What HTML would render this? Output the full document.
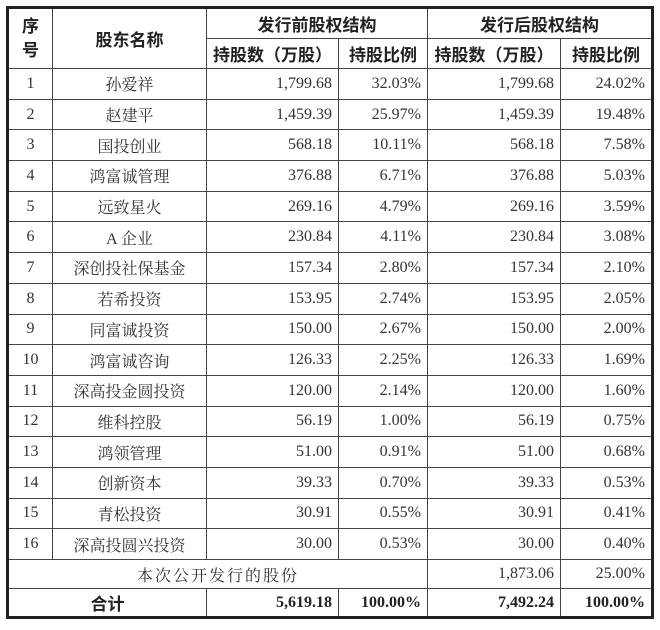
<!DOCTYPE html>
<html><head><meta charset="utf-8"><style>
body{margin:0;background:#fff;width:660px;height:630px;overflow:hidden}
table{position:absolute;left:6px;top:6px;border-collapse:collapse;table-layout:fixed;width:645px;border:3px solid #222;font-family:"Liberation Serif","Noto Serif CJK SC",serif;font-size:16px;color:#333}
td{border:1px solid #444;padding:0 6px;box-sizing:border-box;white-space:nowrap;overflow:hidden}
.h{font-family:"Liberation Sans","Noto Sans CJK SC",sans-serif;font-weight:bold;font-size:17px;color:#222;text-align:center}
.c{text-align:center}.r{text-align:right}
.b{font-weight:bold;color:#222}
tr.d{height:30.7px}
</style></head><body>
<table>
<colgroup><col style="width:45px"><col style="width:154px"><col style="width:132px"><col style="width:89px"><col style="width:133px"><col style="width:92px"></colgroup>
<tr style="height:31px"><td class="h" rowspan="2" style="line-height:24px;padding:0">序<br>号</td><td class="h" rowspan="2">股东名称</td><td class="h" colspan="2">发行前股权结构</td><td class="h" colspan="2">发行后股权结构</td></tr>
<tr style="height:30px"><td class="h" style="padding:0">持股数（万股）</td><td class="h" style="padding:0">持股比例</td><td class="h" style="padding:0">持股数（万股）</td><td class="h" style="padding:0">持股比例</td></tr>
<tr class="d"><td class="c">1</td><td class="c">孙爱祥</td><td class="r">1,799.68</td><td class="r">32.03%</td><td class="r">1,799.68</td><td class="r">24.02%</td></tr>
<tr class="d"><td class="c">2</td><td class="c">赵建平</td><td class="r">1,459.39</td><td class="r">25.97%</td><td class="r">1,459.39</td><td class="r">19.48%</td></tr>
<tr class="d"><td class="c">3</td><td class="c">国投创业</td><td class="r">568.18</td><td class="r">10.11%</td><td class="r">568.18</td><td class="r">7.58%</td></tr>
<tr class="d"><td class="c">4</td><td class="c">鸿富诚管理</td><td class="r">376.88</td><td class="r">6.71%</td><td class="r">376.88</td><td class="r">5.03%</td></tr>
<tr class="d"><td class="c">5</td><td class="c">远致星火</td><td class="r">269.16</td><td class="r">4.79%</td><td class="r">269.16</td><td class="r">3.59%</td></tr>
<tr class="d"><td class="c">6</td><td class="c">A 企业</td><td class="r">230.84</td><td class="r">4.11%</td><td class="r">230.84</td><td class="r">3.08%</td></tr>
<tr class="d"><td class="c">7</td><td class="c">深创投社保基金</td><td class="r">157.34</td><td class="r">2.80%</td><td class="r">157.34</td><td class="r">2.10%</td></tr>
<tr class="d"><td class="c">8</td><td class="c">若希投资</td><td class="r">153.95</td><td class="r">2.74%</td><td class="r">153.95</td><td class="r">2.05%</td></tr>
<tr class="d"><td class="c">9</td><td class="c">同富诚投资</td><td class="r">150.00</td><td class="r">2.67%</td><td class="r">150.00</td><td class="r">2.00%</td></tr>
<tr class="d"><td class="c">10</td><td class="c">鸿富诚咨询</td><td class="r">126.33</td><td class="r">2.25%</td><td class="r">126.33</td><td class="r">1.69%</td></tr>
<tr class="d"><td class="c">11</td><td class="c">深高投金圆投资</td><td class="r">120.00</td><td class="r">2.14%</td><td class="r">120.00</td><td class="r">1.60%</td></tr>
<tr class="d"><td class="c">12</td><td class="c">维科控股</td><td class="r">56.19</td><td class="r">1.00%</td><td class="r">56.19</td><td class="r">0.75%</td></tr>
<tr class="d"><td class="c">13</td><td class="c">鸿领管理</td><td class="r">51.00</td><td class="r">0.91%</td><td class="r">51.00</td><td class="r">0.68%</td></tr>
<tr class="d"><td class="c">14</td><td class="c">创新资本</td><td class="r">39.33</td><td class="r">0.70%</td><td class="r">39.33</td><td class="r">0.53%</td></tr>
<tr class="d"><td class="c">15</td><td class="c">青松投资</td><td class="r">30.91</td><td class="r">0.55%</td><td class="r">30.91</td><td class="r">0.41%</td></tr>
<tr class="d"><td class="c">16</td><td class="c">深高投圆兴投资</td><td class="r">30.00</td><td class="r">0.53%</td><td class="r">30.00</td><td class="r">0.40%</td></tr>
<tr style="height:29px"><td class="c" colspan="4" style="letter-spacing:2px">本次公开发行的股份</td><td class="r">1,873.06</td><td class="r">25.00%</td></tr>
<tr style="height:29px"><td class="h" colspan="2">合计</td><td class="r b">5,619.18</td><td class="r b">100.00%</td><td class="r b">7,492.24</td><td class="r b">100.00%</td></tr>
</table>
</body></html>
